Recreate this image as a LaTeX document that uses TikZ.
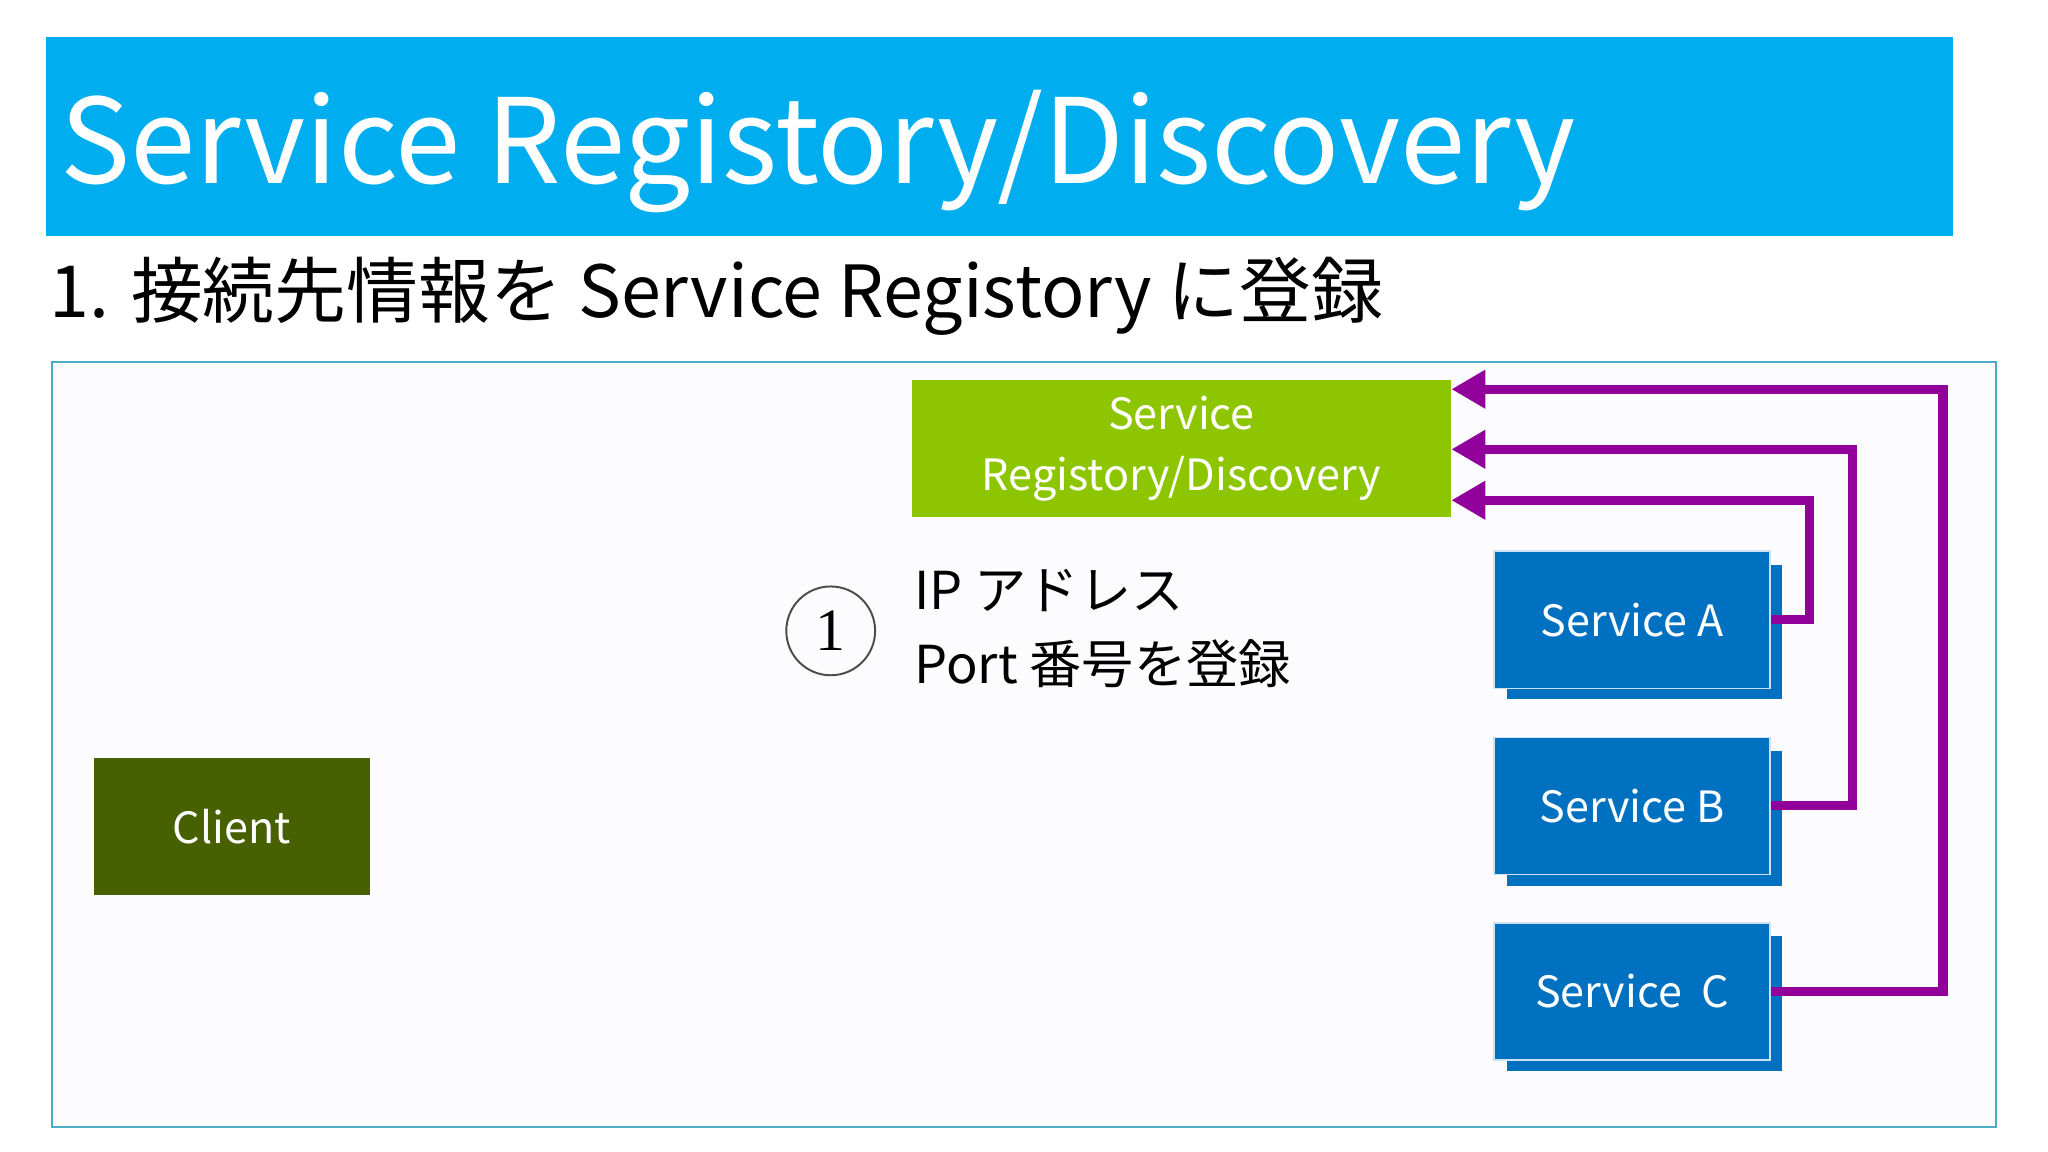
\documentclass[tikz,border=0pt]{standalone}
\usepackage{fontspec}
\setmainfont{Noto Sans CJK JP}
\newfontfamily\serifone{Liberation Serif}
\usetikzlibrary{arrows.meta}
\definecolor{bandblue}{RGB}{0,174,239}
\definecolor{regreen}{RGB}{141,198,0}
\definecolor{clientgreen}{RGB}{71,97,0}
\definecolor{svcblue}{RGB}{0,112,192}
\definecolor{linkpurple}{RGB}{145,0,155}
\definecolor{framecyan}{RGB}{75,172,198}
\tikzset{
  box/.style={minimum width=211pt,minimum height=105pt,inner sep=0pt,text=white,font=\fontsize{33}{46}\selectfont},
  svc/.style={box,fill=svcblue,draw=white!80!svcblue,line width=1.2pt},
  link/.style={draw=linkpurple,line width=7pt,-{Triangle[length=26pt,width=28pt]}}
}
\begin{document}
\begin{tikzpicture}[x=1pt,y=-1pt]
\useasboundingbox (0,0) rectangle (1568,882);
\fill[white] (0,0) rectangle (1568,882);
% title band
\fill[bandblue] (35,28) rectangle (1495,181);
\node[anchor=west,text=white,font=\fontsize{90}{100}\selectfont,inner sep=0pt] (title) at (46,116) {Service Registory/Discovery};
\node[anchor=west,font=\fontsize{55}{60}\selectfont,inner sep=0pt] (subtitle) at (38,227) {1. 接続先情報を Service Registory に登録};
% frame
\draw[framecyan,line width=1.2pt,fill=blue!1] (40,277) rectangle (1528,863);
% nodes
\node[box,fill=regreen,minimum width=413pt,align=center] (reg) at (904.5,343.5) {Service\\Registory/Discovery};
\node[box,fill=clientgreen] (client) at (177.5,632.5) {Client};
\foreach \n/\y/\t in {A/474.5/Service A,B/617/Service B,C/759/Service\ \ C}{
  \fill[svcblue] (1154,\y-42) rectangle (1364,\y+61);
  \node[svc] (svc\n) at (1249.5,\y) {\t};
}
% step label
\node[circle,draw=black!70,line width=1.5pt,minimum size=68pt,inner sep=0pt,font=\fontsize{46}{46}\selectfont\serifone] (step) at (636,483) {1};
\node[anchor=north west,inner sep=0pt,align=left,font=\fontsize{40}{56}\selectfont] (info) at (700,436) {IP アドレス\\Port 番号を登録};
% links
\coordinate (ra) at (reg.east |- 0,383);
\coordinate (rb) at (reg.east |- 0,344);
\coordinate (rc) at (reg.east |- 0,298);
\draw[link] (svcA.east) -- ++(30,0) |- (ra);
\draw[link] (svcB.east) -- ++(63,0) |- (rb);
\draw[link] (svcC.east) -- ++(132,0) |- (rc);
\end{tikzpicture}
\end{document}
